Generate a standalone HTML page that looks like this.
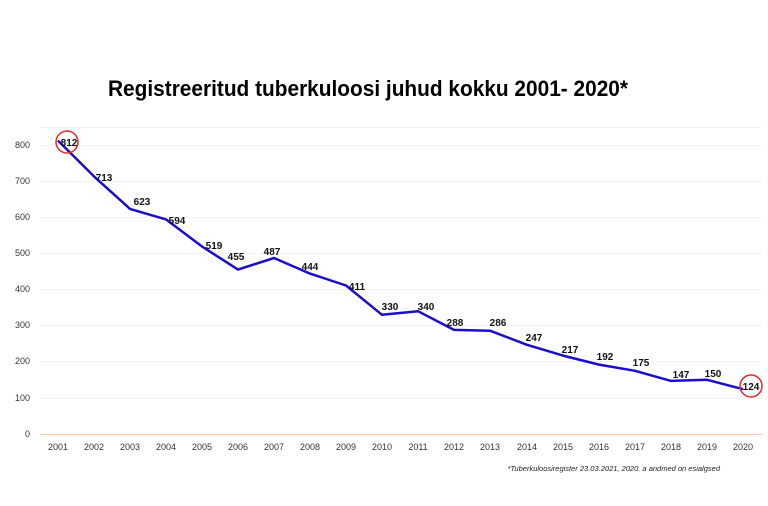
<!DOCTYPE html>
<html><head><meta charset="utf-8"><style>
body{margin:0;background:#fff;}
svg{display:block;font-family:"Liberation Sans",sans-serif;}
</style></head><body>
<svg width="768" height="506" viewBox="0 0 768 506">
<text x="108" y="96" font-size="22" font-weight="bold" fill="#000" textLength="520" lengthAdjust="spacingAndGlyphs">Registreeritud tuberkuloosi juhud kokku 2001- 2020*</text>
<g stroke="#f2f2f2" stroke-width="1">
<line x1="40" x2="762" y1="145.5" y2="145.5"/><line x1="40" x2="762" y1="181.5" y2="181.5"/>
<line x1="40" x2="762" y1="217.5" y2="217.5"/><line x1="40" x2="762" y1="253.5" y2="253.5"/>
<line x1="40" x2="762" y1="289.5" y2="289.5"/><line x1="40" x2="762" y1="325.5" y2="325.5"/>
<line x1="40" x2="762" y1="361.5" y2="361.5"/><line x1="40" x2="762" y1="398.5" y2="398.5"/>
<line x1="40" x2="762" y1="127.5" y2="127.5"/>
</g>
<line x1="40" x2="762" y1="434.5" y2="434.5" stroke="#f8c8a8" stroke-width="1"/>
<g font-size="9" fill="#333" text-anchor="end">
<text x="30" y="148">800</text><text x="30" y="184">700</text><text x="30" y="220">600</text>
<text x="30" y="256">500</text><text x="30" y="292">400</text><text x="30" y="328">300</text>
<text x="30" y="364">200</text><text x="30" y="401">100</text><text x="30" y="437">0</text>
</g>
<g font-size="9" fill="#333" text-anchor="middle">
<text x="58" y="450">2001</text><text x="94" y="450">2002</text><text x="130" y="450">2003</text><text x="166" y="450">2004</text><text x="202" y="450">2005</text><text x="238" y="450">2006</text><text x="274" y="450">2007</text><text x="310" y="450">2008</text><text x="346" y="450">2009</text><text x="382" y="450">2010</text><text x="418" y="450">2011</text><text x="454" y="450">2012</text><text x="490" y="450">2013</text><text x="527" y="450">2014</text><text x="563" y="450">2015</text><text x="599" y="450">2016</text><text x="635" y="450">2017</text><text x="671" y="450">2018</text><text x="707" y="450">2019</text><text x="743" y="450">2020</text>
</g>
<polyline fill="none" stroke="#1a0dcc" stroke-width="2.5" stroke-linejoin="round" points="58,140.6 94,176.4 130,208.9 166,219.4 202,246.5 238,269.6 274,258.0 310,273.6 346,285.5 382,314.8 418,311.2 454,329.9 490,330.7 527,344.8 563,355.6 599,364.6 635,370.8 671,380.9 707,379.8 743,389.2"/>
<g font-size="10" font-weight="bold" fill="#111" text-anchor="middle">
<text x="69" y="146">812</text><text x="104" y="181">713</text><text x="142" y="205">623</text><text x="177" y="224">594</text><text x="214" y="249">519</text><text x="236" y="260">455</text><text x="272" y="255">487</text><text x="310" y="270">444</text><text x="357" y="290">411</text><text x="390" y="310">330</text><text x="426" y="310">340</text><text x="455" y="326">288</text><text x="498" y="326">286</text><text x="534" y="341">247</text><text x="570" y="353">217</text><text x="605" y="360">192</text><text x="641" y="366">175</text><text x="681" y="378">147</text><text x="713" y="377">150</text><text x="751" y="390">124</text>
</g>
<circle cx="67" cy="142" r="11" fill="none" stroke="#e8282a" stroke-width="1.5"/>
<circle cx="751" cy="386" r="11" fill="none" stroke="#e8282a" stroke-width="1.5"/>
<text x="720" y="471" text-anchor="end" font-size="7.5" font-style="italic" fill="#222">*Tuberkuloosiregister 23.03.2021, 2020. a andmed on esialgsed</text>
</svg>
</body></html>
